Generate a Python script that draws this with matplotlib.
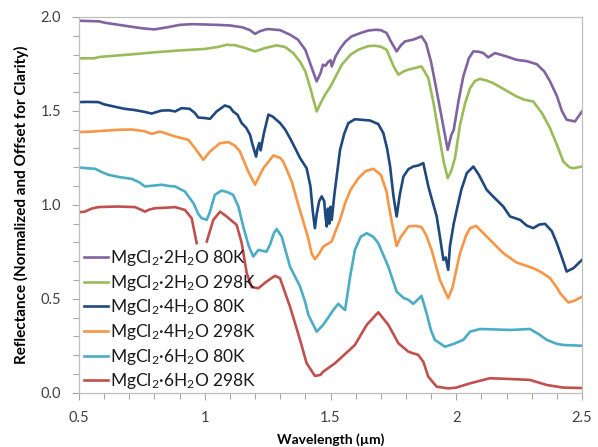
import numpy as np
import matplotlib
matplotlib.use("Agg")
import matplotlib.pyplot as plt
from matplotlib.ticker import MultipleLocator

plt.rcParams['font.family'] = ['Lato', 'DejaVu Sans']
plt.rcParams['mathtext.default'] = 'regular'

labels = ["MgCl$_2$\u00b72H$_2$O 80K", "MgCl$_2$\u00b72H$_2$O 298K",
          "MgCl$_2$\u00b74H$_2$O 80K", "MgCl$_2$\u00b74H$_2$O 298K",
          "MgCl$_2$\u00b76H$_2$O 80K", "MgCl$_2$\u00b76H$_2$O 298K"]
colors = ["#8064A2", "#9BBB59", "#1F497D", "#F79646", "#4BACC6", "#C0504D"]

x_2h80 = [0.50, 0.55, 0.58, 0.60, 0.65, 0.70, 0.75, 0.80, 0.85, 0.90, 0.95, 1.00, 1.05, 1.10, 1.15, 1.18,
          1.20, 1.22, 1.25, 1.30, 1.34, 1.37, 1.40, 1.42, 1.445, 1.46, 1.47, 1.48, 1.49, 1.50, 1.505, 1.52,
          1.54, 1.56, 1.584, 1.62, 1.65, 1.68, 1.70, 1.723, 1.74, 1.763, 1.78, 1.796, 1.83, 1.862, 1.88,
          1.90, 1.915, 1.94, 1.966, 1.98, 1.99, 2.01, 2.028, 2.05, 2.068, 2.09, 2.108, 2.127, 2.154, 2.20,
          2.24, 2.28, 2.32, 2.35, 2.373, 2.40, 2.42, 2.439, 2.472, 2.50]
y_2h80 = [1.980, 1.978, 1.977, 1.970, 1.960, 1.950, 1.940, 1.934, 1.945, 1.958, 1.962, 1.960, 1.958, 1.955,
          1.945, 1.930, 1.910, 1.925, 1.936, 1.930, 1.905, 1.880, 1.825, 1.750, 1.657, 1.700, 1.746, 1.740,
          1.760, 1.770, 1.737, 1.790, 1.835, 1.870, 1.897, 1.915, 1.928, 1.932, 1.930, 1.915, 1.870, 1.817,
          1.850, 1.870, 1.880, 1.897, 1.860, 1.760, 1.657, 1.480, 1.293, 1.370, 1.400, 1.560, 1.683, 1.780,
          1.817, 1.815, 1.808, 1.785, 1.808, 1.790, 1.772, 1.765, 1.749, 1.710, 1.657, 1.580, 1.500, 1.453,
          1.444, 1.497]

x_2h298 = [0.50, 0.56, 0.58, 0.65, 0.70, 0.80, 0.90, 1.00, 1.05, 1.087, 1.12, 1.16, 1.20, 1.24, 1.286,
           1.32, 1.352, 1.38, 1.40, 1.42, 1.445, 1.46, 1.48, 1.50, 1.545, 1.58, 1.611, 1.65, 1.677, 1.70,
           1.723, 1.75, 1.77, 1.79, 1.81, 1.862, 1.889, 1.91, 1.929, 1.95, 1.966, 1.98, 1.995, 2.015, 2.035,
           2.055, 2.075, 2.094, 2.12, 2.147, 2.19, 2.24, 2.27, 2.306, 2.34, 2.373, 2.40, 2.426, 2.45, 2.466,
           2.50]
y_2h298 = [1.780, 1.780, 1.787, 1.795, 1.800, 1.812, 1.822, 1.830, 1.840, 1.852, 1.850, 1.835, 1.817, 1.835,
           1.849, 1.840, 1.808, 1.760, 1.710, 1.620, 1.497, 1.540, 1.590, 1.630, 1.746, 1.800, 1.826, 1.845,
           1.847, 1.842, 1.826, 1.740, 1.693, 1.710, 1.720, 1.737, 1.675, 1.540, 1.390, 1.230, 1.142, 1.180,
           1.249, 1.426, 1.540, 1.622, 1.660, 1.671, 1.662, 1.648, 1.615, 1.577, 1.560, 1.550, 1.490, 1.408,
           1.320, 1.230, 1.200, 1.195, 1.204]

x_4h80 = [0.50, 0.53, 0.577, 0.60, 0.617, 0.65, 0.683, 0.72, 0.76, 0.789, 0.81, 0.829, 0.86, 0.882, 0.908,
          0.94, 0.96, 0.974, 1.00, 1.021, 1.047, 1.08, 1.10, 1.113, 1.13, 1.147, 1.165, 1.18, 1.19, 1.204,
          1.21, 1.217, 1.222, 1.235, 1.253, 1.27, 1.30, 1.32, 1.339, 1.36, 1.379, 1.405, 1.42, 1.43, 1.438,
          1.445, 1.455, 1.465, 1.475, 1.48, 1.485, 1.49, 1.495, 1.50, 1.505, 1.515, 1.538, 1.555, 1.571,
          1.597, 1.63, 1.657, 1.69, 1.71, 1.725, 1.737, 1.75, 1.763, 1.775, 1.79, 1.81, 1.829, 1.85, 1.869,
          1.889, 1.905, 1.922, 1.935, 1.949, 1.958, 1.968, 1.975, 1.99, 2.002, 2.02, 2.042, 2.068, 2.09,
          2.121, 2.15, 2.187, 2.214, 2.254, 2.28, 2.306, 2.33, 2.353, 2.38, 2.40, 2.42, 2.439, 2.466, 2.50]
y_4h80 = [1.547, 1.548, 1.547, 1.535, 1.530, 1.520, 1.511, 1.505, 1.495, 1.486, 1.495, 1.502, 1.503, 1.497,
          1.515, 1.511, 1.490, 1.465, 1.462, 1.458, 1.497, 1.529, 1.520, 1.497, 1.480, 1.435, 1.410, 1.373,
          1.320, 1.257, 1.300, 1.329, 1.290, 1.380, 1.480, 1.470, 1.435, 1.400, 1.355, 1.300, 1.249, 1.195,
          1.100, 0.960, 0.876, 0.950, 1.020, 1.045, 1.020, 0.940, 0.885, 0.980, 0.900, 0.990, 0.920, 1.050,
          1.293, 1.380, 1.435, 1.456, 1.452, 1.449, 1.430, 1.382, 1.300, 1.204, 1.050, 0.938, 1.050, 1.151,
          1.190, 1.204, 1.210, 1.222, 1.098, 1.020, 0.940, 0.830, 0.707, 0.720, 0.654, 0.780, 0.900, 0.973,
          1.080, 1.169, 1.204, 1.160, 1.080, 1.040, 0.991, 0.938, 0.920, 0.890, 0.876, 0.895, 0.899, 0.860,
          0.796, 0.720, 0.645, 0.663, 0.707]

x_4h298 = [0.50, 0.55, 0.617, 0.66, 0.71, 0.76, 0.789, 0.822, 0.85, 0.882, 0.935, 0.961, 0.994, 1.021, 1.06,
           1.094, 1.12, 1.14, 1.173, 1.20, 1.233, 1.273, 1.30, 1.312, 1.346, 1.372, 1.39, 1.41, 1.425, 1.438,
           1.455, 1.471, 1.505, 1.52, 1.538, 1.558, 1.58, 1.611, 1.64, 1.67, 1.70, 1.723, 1.73, 1.745, 1.763,
           1.78, 1.81, 1.84, 1.862, 1.88, 1.902, 1.935, 1.968, 1.985, 2.015, 2.04, 2.055, 2.079, 2.10, 2.134,
           2.187, 2.24, 2.306, 2.34, 2.373, 2.40, 2.413, 2.446, 2.47, 2.50]
y_4h298 = [1.387, 1.390, 1.396, 1.400, 1.401, 1.392, 1.378, 1.390, 1.378, 1.364, 1.346, 1.302, 1.240, 1.284,
           1.328, 1.334, 1.315, 1.284, 1.177, 1.107, 1.195, 1.263, 1.250, 1.231, 1.124, 1.000, 0.920, 0.830,
           0.740, 0.711, 0.740, 0.778, 0.805, 0.860, 0.920, 1.009, 1.080, 1.142, 1.180, 1.192, 1.160, 1.071,
           1.010, 0.900, 0.781, 0.830, 0.885, 0.888, 0.881, 0.840, 0.760, 0.600, 0.503, 0.560, 0.743, 0.840,
           0.876, 0.888, 0.860, 0.814, 0.743, 0.693, 0.663, 0.640, 0.610, 0.560, 0.530, 0.480, 0.490, 0.511]

x_6h80 = [0.50, 0.53, 0.564, 0.59, 0.617, 0.66, 0.71, 0.74, 0.762, 0.80, 0.829, 0.86, 0.882, 0.921, 0.955,
          0.975, 0.988, 1.008, 1.02, 1.04, 1.067, 1.09, 1.113, 1.134, 1.153, 1.175, 1.193, 1.213, 1.23, 1.246,
          1.26, 1.275, 1.286, 1.306, 1.339, 1.379, 1.40, 1.412, 1.445, 1.47, 1.491, 1.511, 1.531, 1.545,
          1.558, 1.578, 1.597, 1.62, 1.644, 1.67, 1.69, 1.73, 1.763, 1.79, 1.81, 1.829, 1.862, 1.882, 1.90,
          1.915, 1.955, 1.988, 2.028, 2.055, 2.094, 2.15, 2.214, 2.293, 2.33, 2.36, 2.40, 2.426, 2.50]
y_6h80 = [1.199, 1.195, 1.192, 1.175, 1.160, 1.148, 1.138, 1.120, 1.098, 1.103, 1.107, 1.100, 1.098, 1.071,
          1.009, 0.950, 0.929, 0.920, 0.960, 1.053, 1.076, 1.068, 1.053, 0.990, 0.885, 0.780, 0.725, 0.760,
          0.755, 0.751, 0.790, 0.850, 0.871, 0.831, 0.671, 0.565, 0.480, 0.414, 0.325, 0.360, 0.400, 0.440,
          0.473, 0.455, 0.440, 0.618, 0.760, 0.830, 0.849, 0.830, 0.796, 0.671, 0.538, 0.505, 0.494, 0.473,
          0.515, 0.423, 0.330, 0.281, 0.245, 0.259, 0.281, 0.325, 0.339, 0.337, 0.334, 0.339, 0.310, 0.281,
          0.260, 0.254, 0.250]

x_6h298 = [0.50, 0.524, 0.55, 0.577, 0.62, 0.656, 0.723, 0.745, 0.762, 0.78, 0.802, 0.85, 0.882, 0.921,
           0.948, 0.968, 0.985, 1.008, 1.034, 1.061, 1.087, 1.127, 1.147, 1.167, 1.187, 1.213, 1.246, 1.279,
           1.299, 1.339, 1.379, 1.405, 1.438, 1.46, 1.471, 1.518, 1.558, 1.597, 1.644, 1.69, 1.73, 1.77,
           1.81, 1.849, 1.869, 1.889, 1.922, 1.968, 2.00, 2.055, 2.134, 2.214, 2.293, 2.36, 2.426, 2.50]
y_6h298 = [0.961, 0.964, 0.980, 0.988, 0.990, 0.991, 0.988, 0.975, 0.964, 0.975, 0.982, 0.985, 0.988, 0.973,
           0.929, 0.796, np.nan, 0.805, 0.920, 0.964, 0.938, 0.893, 0.796, 0.636, 0.562, 0.556, 0.592, 0.622,
           0.610, 0.458, 0.281, 0.157, 0.089, 0.095, 0.112, 0.157, 0.206, 0.254, 0.361, 0.428, 0.361, 0.263,
           0.218, 0.201, 0.165, 0.085, 0.032, 0.023, 0.027, 0.050, 0.077, 0.073, 0.068, 0.041, 0.027, 0.025]

series_x = [x_2h80, x_2h298, x_4h80, x_4h298, x_6h80, x_6h298]
series_y = [y_2h80, y_2h298, y_4h80, y_4h298, y_6h80, y_6h298]

fig = plt.figure(figsize=(5.98, 4.47), dpi=100)
ax = fig.add_axes([79/598, 1-392.7/447, (582-79)/598, (392.7-17)/447])

for xs, ys, c, lab in zip(series_x, series_y, colors, labels):
    ax.plot(xs, ys, color=c, lw=1.9, label=lab, solid_joinstyle='round')

ax.set_xlim(0.5, 2.5)
ax.set_ylim(0.0, 2.0)
ax.xaxis.set_minor_locator(MultipleLocator(0.1))
ax.yaxis.set_minor_locator(MultipleLocator(0.1))
ax.set_xticks([0.5, 1.0, 1.5, 2.0, 2.5])
ax.set_xticklabels(["0.5", "1", "1.5", "2", "2.5"])
ax.set_yticks([0.0, 0.5, 1.0, 1.5, 2.0])
ax.set_yticklabels(["0.0", "0.5", "1.0", "1.5", "2.0"])

for s in ax.spines.values():
    s.set_color("#BFBFBF")
    s.set_linewidth(0.9)
ax.tick_params(which='both', direction='out', color='#A6A6A6', width=0.8)
ax.tick_params(which='major', length=5, labelsize=10.5, labelcolor='#404040', pad=8)
ax.tick_params(which='minor', length=4)

ax.set_xlabel("Wavelength (\u00b5m)", fontsize=10, fontweight='bold', labelpad=6)
ax.set_ylabel("Reflectance (Normalized and Offset for Clarity)", fontsize=11,
              fontweight='bold', labelpad=8)

leg = ax.legend(loc='upper left', bbox_to_anchor=(84/598, 1-248/447),
                bbox_transform=fig.transFigure, frameon=False, fontsize=12.5,
                handlelength=1.4, handletextpad=0.1, labelspacing=0.27,
                borderpad=0, borderaxespad=0)
for t in leg.get_texts():
    t.set_color('#1a1a1a')

fig.savefig("out.png", dpi=100)
